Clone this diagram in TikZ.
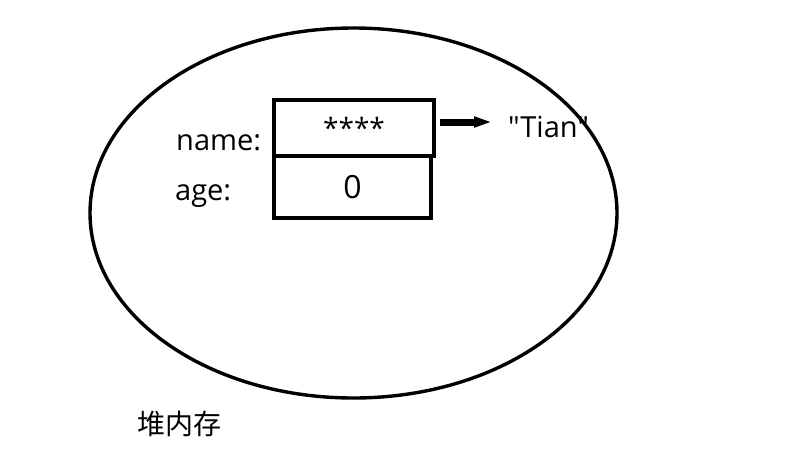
\documentclass[tikz,border=0pt]{standalone}
\usepackage{fontspec}
\setmainfont{Open Sans}
\newfontfamily\plainfont{Open Sans}
\newfontfamily\cjkfont{Noto Sans CJK SC}
\usetikzlibrary{arrows.meta,shapes.geometric,positioning}

\begin{document}
\begin{tikzpicture}[
    x=1pt, y=-1pt,
    field/.style={rectangle, draw, line width=3.5pt, minimum width=160pt, font=\fontsize{28}{32}\selectfont},
    label/.style={inner sep=0pt, anchor=base west, font=\fontsize{29}{32}\selectfont},
    heap/.style={ellipse, draw, line width=3.4pt, minimum width=527pt, minimum height=370pt},
    ptr/.style={-{Triangle[length=18pt,width=10pt]}, line width=7pt, shorten <=4pt, shorten >=16pt}
]
    \useasboundingbox (0,0) rectangle (808,464);

    % Object fields
    \node[field, minimum height=56pt] (namebox) at (354,128) {\raisebox{-3pt}{****}};
    \node[field, minimum height=62pt, minimum width=157pt, font=\fontsize{32}{36}\selectfont] (agebox) at (352.5,187) {0};

    % Field labels
    \node[label] (namelbl) at (176,150) {name:};
    \node[label] (agelbl) at (175,200) {age:};

    % String value
    \node[label, font=\plainfont\fontsize{29}{32}\selectfont] (tian) at (508,137) {"Tian"};

    % Heap
    \node[heap] (heapzone) at (353.5,213) {};
    \node[label, font=\cjkfont\fontsize{28}{32}\selectfont] (heaplbl) at (137,434) {堆内存};

    % Reference
    \draw[ptr] ([yshift=6pt]namebox.east) -- ([yshift=6pt]namebox.east -| tian.west);
\end{tikzpicture}
\end{document}
